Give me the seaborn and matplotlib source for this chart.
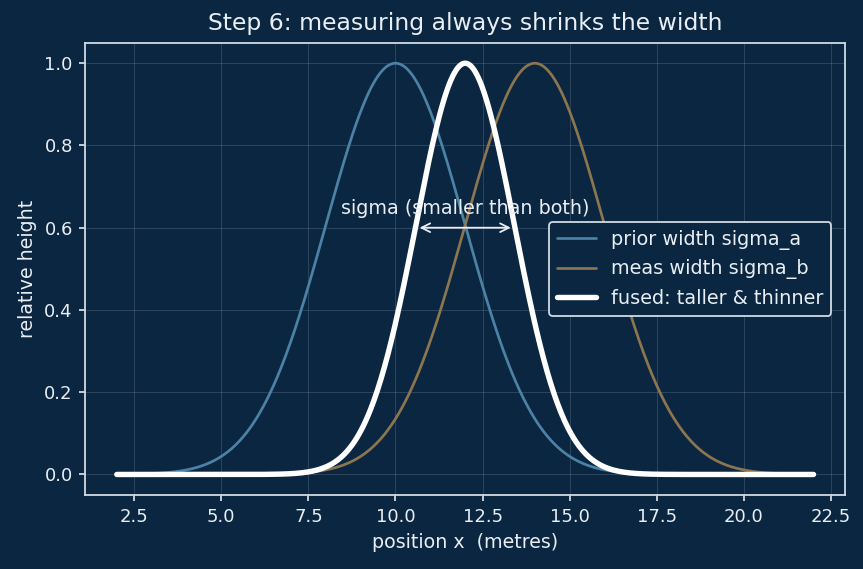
import numpy as np
import pandas as pd
import seaborn as sns
import matplotlib
matplotlib.use("Agg")
import matplotlib.pyplot as plt

# curve parameters (centre, width)
x_range = [2.0, 22.0]
prior_mu, prior_sigma = 10.0, 2.0
meas_mu, meas_sigma = 14.0, 2.0
fused_mu, fused_sigma = 12.0, 1.414
labels = ["prior width sigma_a", "meas width sigma_b", "fused: taller & thinner"]

bg = "#0b2640"
fg = "#e8eef4"
edge = "#d0dbe6"

sns.set_theme(style="dark")
plt.rcParams.update({
    "figure.facecolor": bg, "axes.facecolor": bg, "axes.edgecolor": edge,
    "text.color": fg, "axes.labelcolor": fg, "xtick.color": fg, "ytick.color": fg,
    "grid.color": "#ffffff", "grid.alpha": 0.15, "grid.linewidth": 0.5,
})
plt.rcParams["font.family"] = ["DejaVu Sans"]


def bell(x, mu, sigma):
    return np.exp(-0.5 * ((x - mu) / sigma) ** 2)


x = np.linspace(x_range[0], x_range[1], 600)
df = pd.DataFrame({
    "x": np.tile(x, 3),
    "y": np.concatenate([bell(x, prior_mu, prior_sigma),
                         bell(x, meas_mu, meas_sigma),
                         bell(x, fused_mu, fused_sigma)]),
    "curve": np.repeat(labels, len(x)),
})

fig, ax = plt.subplots(figsize=(863 / 130, 569 / 130), dpi=130)
fig.subplots_adjust(left=0.099, right=0.979, top=0.925, bottom=0.13)

palette = {labels[0]: "#4c82a6", labels[1]: "#8c7650", labels[2]: "#ffffff"}
sns.lineplot(data=df, x="x", y="y", hue="curve", palette=palette, ax=ax,
             size="curve", sizes={labels[0]: 1.5, labels[1]: 1.5, labels[2]: 3.0})

# arrow showing the fused width
ax.annotate("", xy=(fused_mu - fused_sigma, 0.6), xytext=(fused_mu + fused_sigma, 0.6),
            arrowprops=dict(arrowstyle="<->", color=fg, lw=1.0))
ax.text(fused_mu, 0.623, "sigma (smaller than both)", ha="center", va="bottom",
        fontsize=10.6, color=fg)

ax.set_xlim(1.1, 22.9)
ax.set_ylim(-0.05, 1.05)
ax.set_xticks(np.arange(2.5, 22.6, 2.5))
ax.set_yticks(np.arange(0, 1.01, 0.2))
ax.grid(True)
ax.tick_params(axis="both", which="both", length=3.5, width=0.9, colors=fg,
               labelsize=10, bottom=True, left=True)
for s in ax.spines.values():
    s.set_color(edge)
    s.set_linewidth(1.0)

ax.set_xlabel("position x  (metres)", fontsize=10.5)
ax.set_ylabel("relative height", fontsize=10.5)
ax.set_title("Step 6: measuring always shrinks the width", fontsize=13, color=fg, pad=7)

leg = ax.legend(loc="center right", bbox_to_anchor=(0.995, 0.5), fontsize=10.7,
                frameon=True, facecolor=bg, edgecolor=edge, framealpha=1)
for t in leg.get_texts():
    t.set_color(fg)

fig.savefig("out.png", dpi=130, facecolor=bg)
